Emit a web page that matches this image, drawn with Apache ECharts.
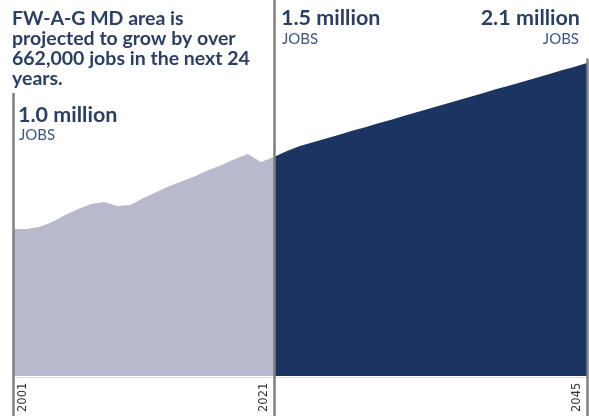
<!DOCTYPE html>
<html>
<head>
<meta charset="utf-8">
<script src="https://cdn.jsdelivr.net/npm/echarts@6/dist/echarts.min.js"></script>
<style>
    html, body { margin: 0; padding: 0; background: #fff; }
    #chart { width: 589px; height: 416px; }
</style>
</head>
<body>
<div id="chart"></div>
<script>
// jobs, in thousands
const histYears = [2001, 2002, 2003, 2004, 2005, 2006, 2007, 2008, 2009, 2010, 2011,
    2012, 2013, 2014, 2015, 2016, 2017, 2018, 2019, 2020, 2021];
const histJobs = [1000, 1000, 1014, 1048, 1095, 1136, 1170, 1184, 1156, 1163, 1211,
    1252, 1293, 1327, 1361, 1401, 1435, 1476, 1510, 1456, 1490];
const projYears = [2021, 2022, 2023, 2024, 2025, 2026, 2027, 2028, 2029, 2030, 2031, 2032,
    2033, 2034, 2035, 2036, 2037, 2038, 2039, 2040, 2041, 2042, 2043, 2044, 2045];
const projJobs = [1490, 1530, 1565, 1591, 1616, 1642, 1668, 1693, 1719, 1744, 1770, 1796,
    1821, 1847, 1873, 1898, 1924, 1950, 1975, 2001, 2026, 2052, 2078, 2103, 2129];
const markYears = ["2001", "2021", "2045"];

const yMin = -272;
const yMax = 2558;
const navy = "#1b3461";
const textNavy = "#2b3e66";
const jobsBlue = "#3d5588";
const lineGray = "#7f7f7f";

const chart = echarts.init(document.getElementById("chart"));

function yearLine(year, top, pos) {
    return [
        {
            coord: [year, yMin],
            label: {
                show: true,
                formatter: String(year),
                position: pos,
                color: "#333",
                fontFamily: "DejaVu Sans",
                fontSize: 11.5,
                distance: 4,
            },
        },
        { coord: [year, top] },
    ];
}

function bigText(text, pos) {
    return Object.assign({
        type: "text",
        z: 100,
        style: { text: text, fontFamily: "Lato", fontWeight: "bold", fontSize: 21.5, fill: textNavy },
    }, pos);
}

function jobsText(pos) {
    return Object.assign({
        type: "text",
        z: 100,
        style: { text: "JOBS", fontFamily: "Lato", fontSize: 15, fill: jobsBlue },
    }, pos);
}

const option = {
    animation: false,
    graphic: [
        {
            type: "text",
            left: 12,
            top: 9,
            z: 100,
            style: {
                text: "FW-A-G MD area is\nprojected to grow by over\n662,000 jobs in the next 24\nyears.",
                fontFamily: "Lato",
                fontWeight: "bold",
                fontSize: 19.5,
                lineHeight: 20,
                fill: textNavy,
            },
        },
        bigText("1.0 million", { left: 18, top: 104 }),
        jobsText({ left: 19, top: 128 }),
        bigText("1.5 million", { left: 281, top: 7 }),
        jobsText({ left: 282, top: 32 }),
        bigText("2.1 million", { right: 9, top: 7 }),
        jobsText({ right: 10, top: 32 }),
    ],
    grid: { left: 13, right: 2, top: 0, bottom: 0 },
    xAxis: {
        type: "value",
        min: 2001,
        max: 2045,
        show: false,
    },
    yAxis: {
        type: "value",
        min: yMin,
        max: yMax,
        show: false,
    },
    series: [
        {
            name: "history",
            type: "line",
            data: histYears.map((y, i) => [y, histJobs[i]]),
            symbol: "none",
            lineStyle: { width: 0 },
            areaStyle: { color: "#b8b9cc", opacity: 1, origin: 0 },
            markLine: {
                silent: true,
                symbol: "none",
                lineStyle: { color: "#dcdcdc", width: 1, type: "solid" },
                label: { show: false },
                data: [[{ coord: [2001, -5] }, { coord: [2045, -5] }]],
            },
        },
        {
            name: "projection",
            type: "line",
            data: projYears.map((y, i) => [y, projJobs[i]]),
            symbol: "none",
            lineStyle: { width: 0 },
            areaStyle: { color: navy, opacity: 1, origin: 0 },
            markLine: {
                silent: true,
                symbol: "none",
                z: 10,
                lineStyle: { color: lineGray, width: 2.5, type: "solid" },
                data: [
                    yearLine(Number(markYears[0]), 1925, "insideStartBottom"),
                    yearLine(Number(markYears[1]), yMax, "insideStartTop"),
                    yearLine(Number(markYears[2]), 2160, "insideStartTop"),
                ],
            },
        },
    ],
};

chart.setOption(option);
window.addEventListener("resize", function () {
    chart.resize();
});
</script>
</body>
</html>
